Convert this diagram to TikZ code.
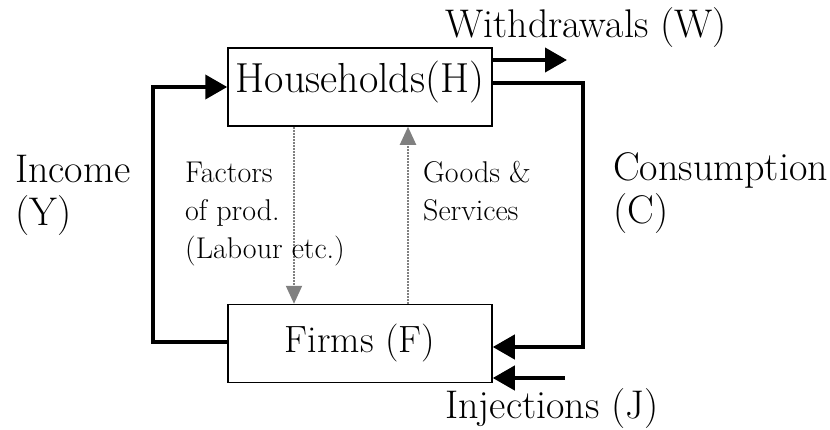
\documentclass[tikz,border=0pt]{standalone}
\usepackage{tikz}
\usetikzlibrary{arrows.meta}

\begin{document}
\begin{tikzpicture}[x=1pt, y=-1pt, line join=miter]

\tikzstyle{sector}=[draw, line width=1.5pt, minimum width=264pt, minimum height=78pt, inner sep=0pt, font=\fontsize{38}{45}\selectfont]
\tikzstyle{big}=[inner sep=0pt, align=left, font=\fontsize{40}{43}\selectfont]
\tikzstyle{small}=[inner sep=0pt, align=left, font=\fontsize{30}{38}\selectfont]
\tikzstyle{flow}=[line width=4pt, -{Triangle[length=22pt,width=24pt]}]
\tikzstyle{real}=[gray, line width=2pt, densely dotted, -{Triangle[length=18pt,width=16pt]}]

\useasboundingbox (0,0) rectangle (830,429);

\draw    (360, 87)    node[sector, font=\fontsize{42}{45}\selectfont, text height=31pt, text depth=21pt] (hh) {Households(H)}
         (360, 343.5) node[sector] (firm) {Firms (F)};

\coordinate (wtip)  at (567, 60);
\coordinate (ccor)  at (583, 347);
\coordinate (ycor)  at (153, 87);
\coordinate (jtail) at (565, 378);

\draw[flow] (hh.east |- wtip) -- (wtip);
\draw[flow] (hh.east |- 0,83) -| (ccor) -- (firm.east |- ccor);
\draw[flow] (firm.west |- 0,342) -| (ycor) -- (hh.west |- ycor);
\draw[flow] (jtail) -- (firm.east |- jtail);

\draw[real] (hh.south -| 294,0) -- (firm.north -| 294,0);
\draw[real] (firm.north -| 408,0) -- (hh.south -| 408,0);

% base anchor of a multi-line node sits on its last line
\node[big, anchor=base west]   (wlab) at (445, 37)  {Withdrawals (W)};
\node[big, anchor=base west]   (ylab) at (15, 225)  {Income\\(Y)};
\node[big, anchor=base west]   (clab) at (613, 223) {Consumption\\(C)};
\node[big, anchor=base west]   (jlab) at (445, 418) {Injections (J)};
\node[small, anchor=base west] (flab) at (185, 258) {Factors\\of prod.\\(Labour etc.)};
\node[small, anchor=base west] (glab) at (423, 220) {Goods \&\\Services};

\end{tikzpicture}
\end{document}
